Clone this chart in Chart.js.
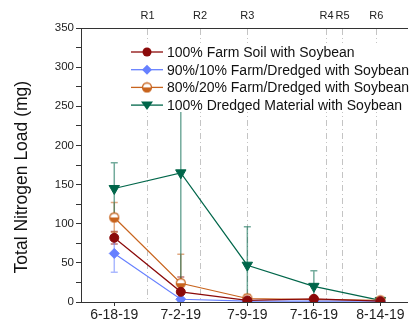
<!DOCTYPE html>
<html>
<head>
<meta charset="utf-8">
<script src="https://cdn.jsdelivr.net/npm/chart.js@4"></script>
<style>
  html, body { margin: 0; padding: 0; background: #fff; }
</style>
</head>
<body>
<canvas id="nitrogenChart" width="414" height="325"></canvas>
<script>
// sampling dates (x categories)
const dates = ['6-18-19', '7-2-19', '7-9-19', '7-16-19', '8-14-19'];

// mean total nitrogen load (mg) and error (+/-) per treatment
const farmSoil = [82, 13, 2, 4, 1];
const farmSoilErr = [8, 19, 1, 1, 0.5];
const mix9010 = [62, 3.5, 1, 1, 1];
const mix9010Err = [24, 2, 0.5, 0.5, 0.5];
const mix8020 = [108, 24, 4.5, 3, 2];
const mix8020Err = [19, 37, 5, 2, 1];
const dredged = [145, 165, 47, 20, 2];
const dredgedErr = [33, 163, 49, 20, 1];

// growth stages on the top axis (position in date-index units)
const stageLabels = ['R1', 'R2', 'R3', 'R4', 'R5', 'R6'];
const stagePos = [0.5, 1.29, 2.0, 3.19, 3.43, 3.94];

const FONT = 'Liberation Sans, Arial, sans-serif';

function halfCircle(color, r) {
    const c = document.createElement('canvas');
    const s = Math.ceil(2 * r + 3);
    c.width = c.height = s;
    const g = c.getContext('2d');
    const m = s / 2;
    g.fillStyle = '#fff';
    g.beginPath(); g.arc(m, m, r, 0, 2 * Math.PI); g.fill();
    g.fillStyle = color;
    g.beginPath(); g.arc(m, m, r, 0, Math.PI); g.fill();
    g.strokeStyle = color; g.lineWidth = 1.3;
    g.beginPath(); g.arc(m, m, r, 0, 2 * Math.PI); g.stroke();
    return c;
}

const orangeMarker = halfCircle('#c8641e', 4.5);

function toPoints(arr) {
    return arr.map((v, i) => ({ x: i, y: v }));
}

const series = [
    { label: '100% Farm Soil with Soybean', values: farmSoil, errors: farmSoilErr,
      color: '#8b0a0a', errColor: 'rgba(139,10,10,0.55)', pointStyle: 'circle', radius: 4.5, rotation: 0 },
    { label: '90%/10% Farm/Dredged with Soybean', values: mix9010, errors: mix9010Err,
      color: '#6680ff', errColor: 'rgba(102,128,255,0.55)', pointStyle: 'rectRot', radius: 5, rotation: 0 },
    { label: '80%/20% Farm/Dredged with Soybean', values: mix8020, errors: mix8020Err,
      color: '#c8641e', errColor: 'rgba(200,100,30,0.55)', pointStyle: orangeMarker, radius: 4.5, rotation: 0 },
    { label: '100% Dredged Material with Soybean', values: dredged, errors: dredgedErr,
      color: '#00664a', errColor: 'rgba(0,102,74,0.55)', pointStyle: 'triangle', radius: 6, rotation: 180 }
];

const errorBars = {
    id: 'errorBars',
    beforeDatasetsDraw(chart) {
        const { ctx, chartArea, scales } = chart;
        ctx.save();
        ctx.beginPath();
        ctx.rect(chartArea.left, chartArea.top, chartArea.right - chartArea.left, chartArea.bottom - chartArea.top);
        ctx.clip();
        chart.data.datasets.forEach(ds => {
            ctx.strokeStyle = ds.errColor;
            ctx.lineWidth = 1.5;
            ds.data.forEach((p, i) => {
                const e = ds.errors[i];
                const px = scales.x.getPixelForValue(p.x);
                const top = scales.y.getPixelForValue(p.y + e);
                const bot = scales.y.getPixelForValue(p.y - e);
                ctx.beginPath();
                ctx.moveTo(px, top); ctx.lineTo(px, bot);
                ctx.moveTo(px - 3.5, top); ctx.lineTo(px + 3.5, top);
                ctx.moveTo(px - 3.5, bot); ctx.lineTo(px + 3.5, bot);
                ctx.stroke();
            });
        });
        ctx.restore();
    }
};

function drawMarker(ctx, ds, x, y) {
    const r = ds.pointRadius;
    ctx.fillStyle = ds.borderColor;
    if (ds.pointStyle instanceof HTMLCanvasElement) {
        ctx.drawImage(ds.pointStyle, x - ds.pointStyle.width / 2, y - ds.pointStyle.height / 2);
        return;
    }
    ctx.beginPath();
    if (ds.pointStyle === 'circle') {
        ctx.arc(x, y, r, 0, 2 * Math.PI);
    } else if (ds.pointStyle === 'rectRot') {
        ctx.moveTo(x, y - r); ctx.lineTo(x + r, y); ctx.lineTo(x, y + r); ctx.lineTo(x - r, y);
    } else {
        ctx.moveTo(x - r, y - r * 0.6); ctx.lineTo(x + r, y - r * 0.6); ctx.lineTo(x, y + r * 0.8);
    }
    ctx.closePath();
    ctx.fill();
}

const legendBox = {
    id: 'legendBox',
    afterDatasetsDraw(chart) {
        const { ctx, chartArea } = chart;
        const x0 = chartArea.left + 47;
        const y0 = chartArea.top + 15;
        ctx.save();
        ctx.fillStyle = '#fff';
        ctx.fillRect(x0, y0, 290, 69);
        ctx.font = '14px ' + FONT;
        ctx.textBaseline = 'middle';
        chart.data.datasets.forEach((ds, i) => {
            const y = y0 + 9 + i * 17.7;
            ctx.strokeStyle = ds.borderColor;
            ctx.lineWidth = 1.3;
            ctx.beginPath();
            ctx.moveTo(x0 + 3, y); ctx.lineTo(x0 + 35, y);
            ctx.stroke();
            drawMarker(ctx, ds, x0 + 19, y);
            ctx.fillStyle = '#111';
            ctx.fillText(ds.label, x0 + 39, y + 1);
        });
        ctx.restore();
    }
};

new Chart(document.getElementById('nitrogenChart'), {
    type: 'line',
    data: {
        datasets: series.map(s => ({
            label: s.label,
            data: toPoints(s.values),
            errors: s.errors,
            errColor: s.errColor,
            borderColor: s.color,
            backgroundColor: s.color,
            borderWidth: 1.2,
            pointStyle: s.pointStyle,
            pointRadius: s.radius,
            pointRotation: s.rotation,
            pointBorderWidth: 1,
            pointBackgroundColor: s.color,
            pointBorderColor: s.color,
            tension: 0
        }))
    },
    options: {
        responsive: false,
        animation: false,
        devicePixelRatio: 1,
        layout: { padding: 0 },
        plugins: { legend: { display: false }, tooltip: { enabled: false } },
        scales: {
            x: {
                type: 'linear', position: 'bottom', min: -0.5, max: 4.4,
                afterBuildTicks: s => { s.ticks = dates.map((d, i) => ({ value: i })); },
                afterFit: s => { s.height = 23; },
                ticks: {
                    callback: v => dates[v], autoSkip: false, maxRotation: 0,
                    color: '#222', font: { size: 14, family: FONT }, padding: 1
                },
                grid: { drawOnChartArea: false, tickLength: 4, color: '#333' },
                border: { color: '#333' }
            },
            x2: {
                type: 'linear', position: 'top', min: -0.5, max: 4.4,
                afterBuildTicks: s => { s.ticks = stagePos.map(v => ({ value: v })); },
                afterFit: s => { s.height = 28; },
                ticks: {
                    callback: (v, i) => stageLabels[i], autoSkip: false, maxRotation: 0,
                    color: '#222', font: { size: 11, family: FONT }, padding: 5
                },
                grid: { drawTicks: false, color: '#c4c4c4', lineWidth: 1 },
                border: { color: '#333', dash: [6, 3, 1, 3] }
            },
            y: {
                min: 0, max: 350,
                afterBuildTicks: s => {
                    const t = [];
                    for (let v = 0; v <= 350; v += 25) t.push({ value: v });
                    s.ticks = t;
                },
                afterFit: s => { s.width = 81; },
                ticks: {
                    callback: v => (v % 50 === 0 ? v : ''), autoSkip: false,
                    color: '#222', font: { size: 11.5, family: FONT }, padding: 2
                },
                grid: { drawOnChartArea: false, tickLength: 5, color: '#333' },
                border: { color: '#333' },
                title: {
                    display: true,
                    text: 'Total Nitrogen Load (mg)\u00a0\u00a0\u00a0\u00a0\u00a0',
                    color: '#111',
                    font: { size: 17.5, family: FONT },
                    padding: { top: 12, bottom: 0 }
                }
            }
        }
    },
    plugins: [errorBars, legendBox]
});
</script>
</body>
</html>
